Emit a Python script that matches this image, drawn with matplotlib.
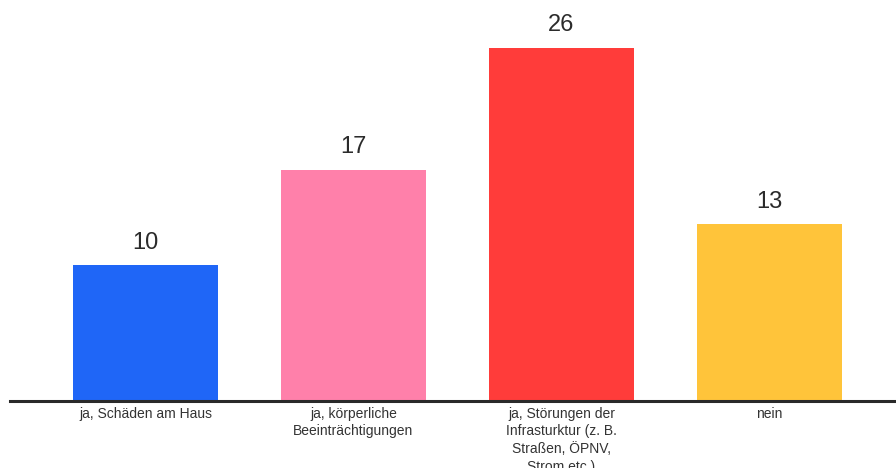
import matplotlib
matplotlib.use('Agg')
import matplotlib.pyplot as plt

categories = ['ja, Schäden am Haus',
              'ja, körperliche\nBeeinträchtigungen',
              'ja, Störungen der\nInfrasturktur (z. B.\nStraßen, ÖPNV,\nStrom etc.)',
              'nein']
values = [10, 17, 26, 13]
colors = ['#1f66f7', '#ff80aa', '#ff3c3a', '#ffc43a']

fig = plt.figure(figsize=(8.96, 4.68), dpi=100)
ax = fig.add_axes([10 / 896, 67 / 468, 886 / 896, 401 / 468])

x = list(range(len(values)))
bars = ax.bar(x, values, width=145 / 208, color=colors)

for xi, v in zip(x, values):
    ax.text(xi, v + 0.85, str(v), ha='center', va='bottom', fontsize=17,
            color='#2b2b2b', family=['Liberation Sans', 'DejaVu Sans'])

ax.set_xlim(-0.651, 3.608)
ax.set_ylim(0, 29.5)
ax.set_yticks([])
ax.set_xticks(x)
ax.set_xticklabels(categories, fontsize=10, color='#333333', linespacing=1.35,
                   family=['Liberation Sans Narrow', 'Liberation Sans', 'DejaVu Sans'])
ax.tick_params(axis='x', length=0, pad=4)

for s in ['top', 'left', 'right']:
    ax.spines[s].set_visible(False)
ax.spines['bottom'].set_color('#2a2a2a')
ax.spines['bottom'].set_linewidth(2.2)

fig.savefig('out.png', dpi=100)
